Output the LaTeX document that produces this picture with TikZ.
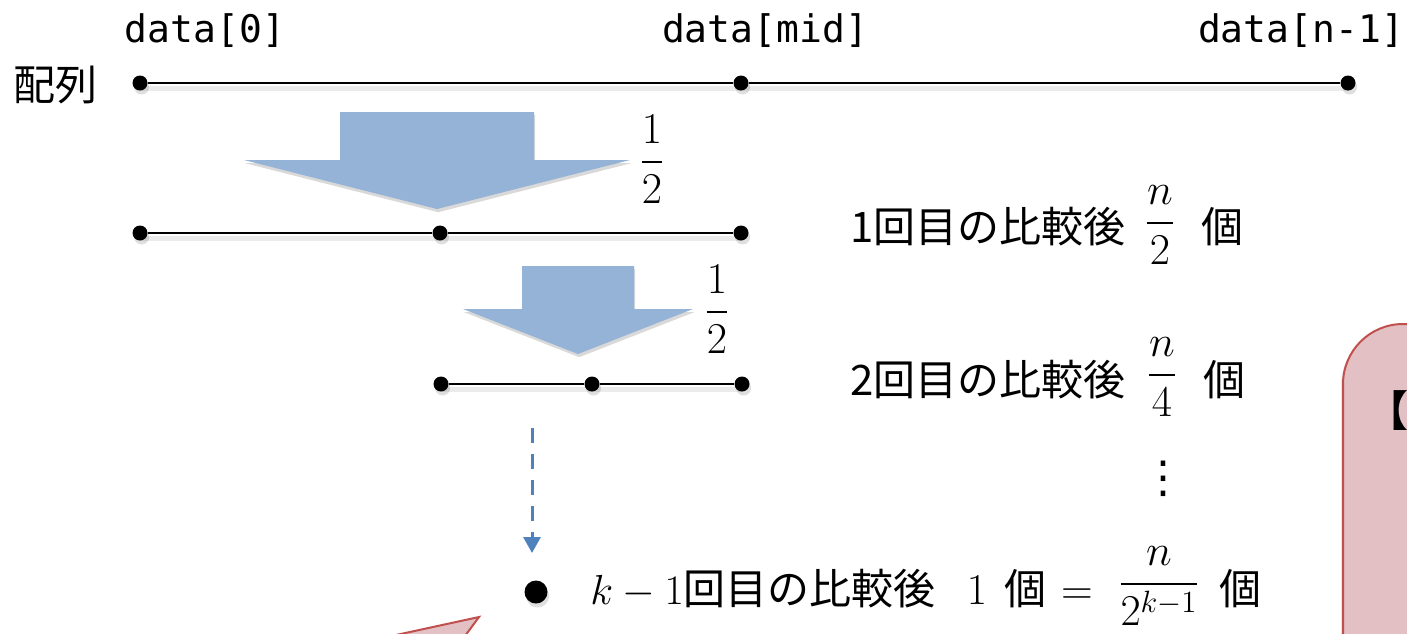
\RequirePackage{fix-cm}
\documentclass[tikz,border=0pt]{standalone}
\usepackage{amsmath}
\usepackage{fontspec}
\newfontfamily\cjk{Noto Sans CJK JP}
\newfontfamily\djv{DejaVu Sans}
\setmonofont{DejaVu Sans Mono}
\usetikzlibrary{arrows.meta,shadows}
\definecolor{blockblue}{RGB}{149,179,215}
\definecolor{dashblue}{RGB}{79,129,189}
\definecolor{pinkfill}{RGB}{226,192,195}
\definecolor{pinkline}{RGB}{192,80,77}
\begin{document}
\begin{tikzpicture}[x=0.5pt,y=-0.5pt,
  vtx/.style={circle,fill=black,inner sep=0pt,minimum size=7.5pt,
    drop shadow={shadow xshift=0.8pt,shadow yshift=-2pt,opacity=0.25}},
  seg/.style={line width=1pt},
  segshadow/.style={line width=2.5pt,black,opacity=0.08},
  lbl/.style={inner sep=0pt,font=\cjk\fontsize{21}{25}\selectfont},
  mth/.style={inner sep=0pt,font=\fontsize{22}{26}\selectfont},
  mono/.style={inner sep=0pt,font=\ttfamily\fontsize{19}{23}\selectfont},
  blockarrow/.style={fill=blockblue,
    drop shadow={shadow xshift=0.6pt,shadow yshift=-1.6pt,opacity=0.3}},
  dasharrow/.style={draw=dashblue,line width=1.5pt,dash pattern=on 7.5pt off 5.5pt,
    -{Triangle[length=8pt,width=8.5pt]}},
  pinkbox/.style={fill=pinkfill,draw=pinkline,line width=1pt}
]
\useasboundingbox (0,0) rectangle (1407,633);
\clip (0,0) rectangle (1407,633);

% pink callout pointer and box (cut by the frame)
\draw[pinkbox] (373,640) -- (479,617) -- (462,640) -- cycle;
\draw[pinkbox,rounded corners=30pt,
  drop shadow={shadow xshift=-1pt,shadow yshift=-1pt,opacity=0.2}]
  (1343,720) -- (1343,324) -- (1520,324) -- (1520,720) -- cycle;
\node[inner sep=0pt,anchor=west,font=\cjk\bfseries\fontsize{21}{25}\selectfont] (br) at (1366,411) {【};

% top labels
\node[mono,anchor=base] (t0) at (205,42) {data[0]};
\node[mono,anchor=base] (tm) at (765,42) {data[mid]};
\node[mono,anchor=base] (tn) at (1301,42) {data[n-1]};
\node[lbl] (arr) at (55,85) {配列};

% dots
\node[vtx] (a0) at (140,83) {};
\node[vtx] (a1) at (741,83) {};
\node[vtx] (a2) at (1348,83) {};
\node[vtx] (b0) at (140,233) {};
\node[vtx] (b1) at (440,233) {};
\node[vtx] (b2) at (741,233) {};
\node[vtx] (c0) at (441,384) {};
\node[vtx] (c1) at (592,384) {};
\node[vtx] (c2) at (742,384) {};
\node[vtx,minimum size=11.5pt] (d0) at (536,592) {};

% segments
\draw[segshadow] ([shift={(1,5)}]a0.center) -- ([shift={(1,5)}]a2.center);
\draw[segshadow] ([shift={(1,5)}]b0.center) -- ([shift={(1,5)}]b2.center);
\draw[segshadow] ([shift={(1,5)}]c0.center) -- ([shift={(1,5)}]c2.center);
\draw[seg] (a0) -- (a1) -- (a2);
\draw[seg] (b0) -- (b1) -- (b2);
\draw[seg] (c0) -- (c1) -- (c2);

% block arrows
\fill[blockarrow] (340,112) -- (534,112) -- (534,160) -- (630,160) -- (437,209)
  -- (244,160) -- (340,160) -- cycle;
\fill[blockarrow] (522,266) -- (634,266) -- (634,309) -- (693,309) -- (578,354)
  -- (463,309) -- (522,309) -- cycle;
\node[mth,anchor=base] (h1) at (652,173) {$\dfrac{1}{2}$};
\node[mth,anchor=base] (h2) at (717,323) {$\dfrac{1}{2}$};

% dashed arrow
\coordinate (ds) at (532,428);
\coordinate (de) at (532,553);
\draw[dasharrow] (ds) -- (de);

% right labels
\node[lbl,anchor=base west] (l1) at (850,242) {1回目の比較後};
\node[mth,anchor=base] (f1) at (1160,234) {$\dfrac{n}{2}$};
\node[lbl,anchor=base] (k1) at (1222,242) {個};

\node[lbl,anchor=base west] (l2) at (850,395) {2回目の比較後};
\node[mth,anchor=base] (f2) at (1162,386) {$\dfrac{n}{4}$};
\node[lbl,anchor=base] (k2) at (1224,395) {個};

\node[inner sep=0pt,font=\djv\fontsize{22}{26}\selectfont] (vd) at (1163,479) {⋮};

\node[lbl,anchor=base west] (l3) at (590,604) {$k-1$回目の比較後};
\node[mth,anchor=base] (one) at (977,604) {$1$};
\node[lbl,anchor=base] (k3) at (1025,604) {個};
\node[mth,anchor=base] (eq) at (1077,604) {$=$};
\node[mth,anchor=base] (f3) at (1159,595) {$\dfrac{n}{2^{k-1}}$};
\node[lbl,anchor=base] (k4) at (1240,604) {個};
\end{tikzpicture}
\end{document}
